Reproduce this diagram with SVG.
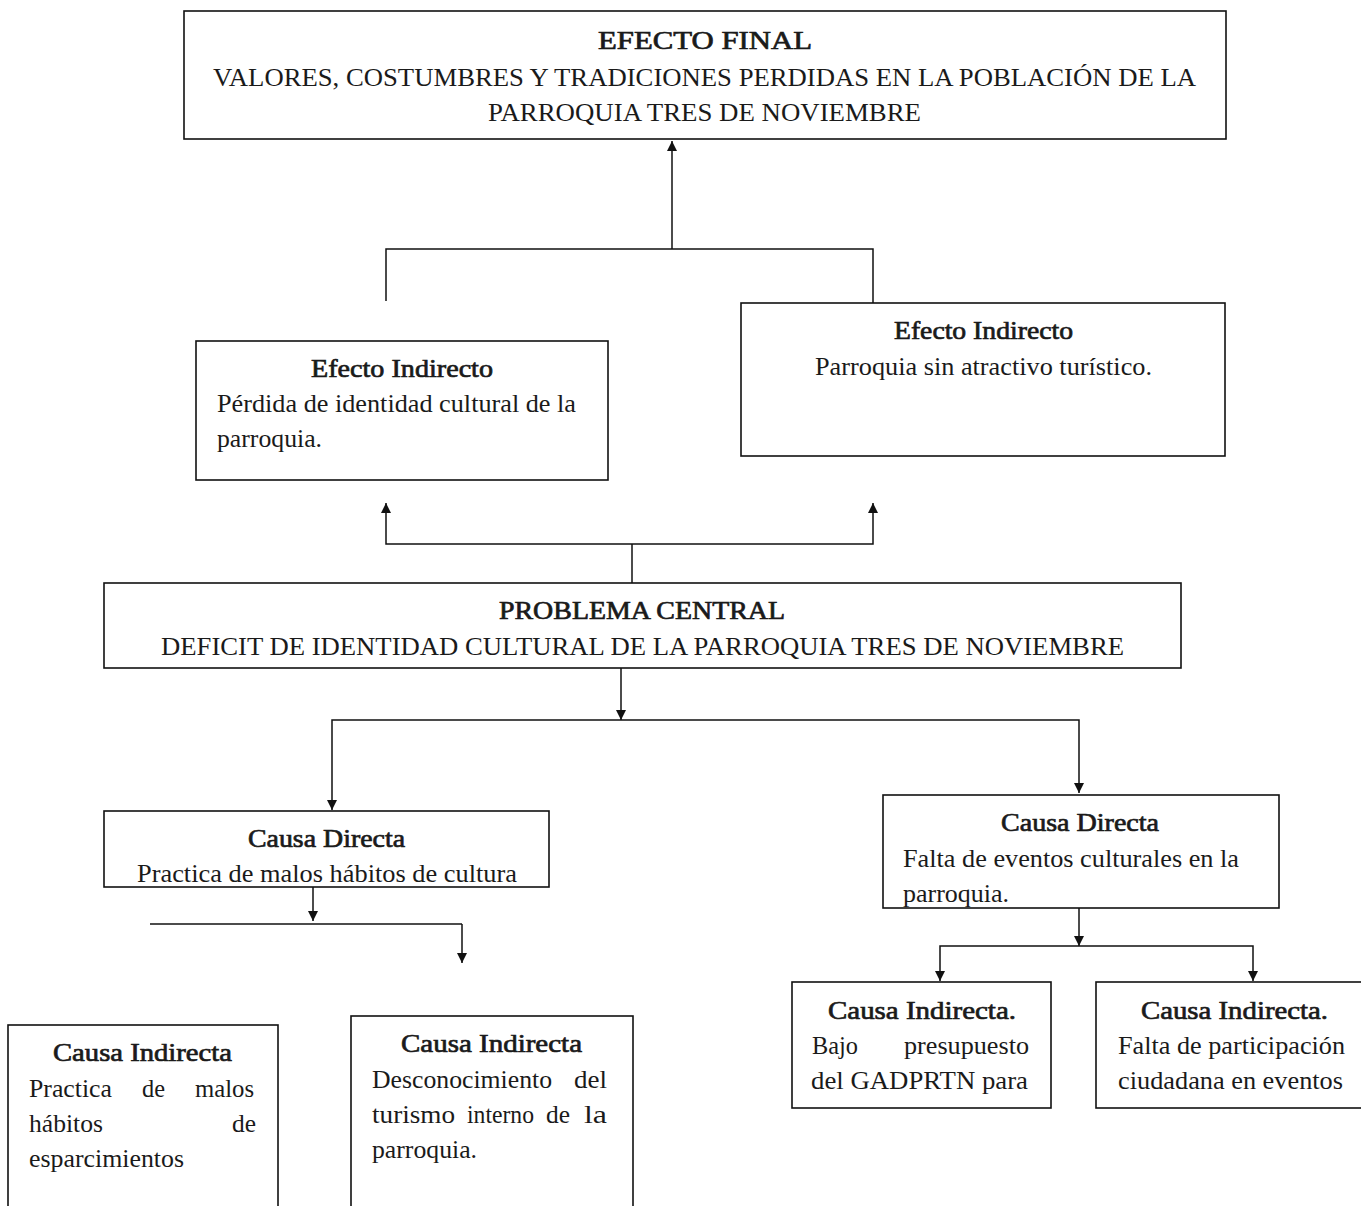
<svg xmlns="http://www.w3.org/2000/svg" width="1361" height="1206" viewBox="0 0 1361 1206">
<defs>
<marker id="ah" markerWidth="10" markerHeight="12" refX="10" refY="5" orient="auto" markerUnits="userSpaceOnUse" viewBox="0 0 10 10">
<path d="M0,0 L10,5 L0,10 Z" fill="#111"/>
</marker>
<style>
.box{fill:none;stroke:#111;stroke-width:1.6}
.ln{fill:none;stroke:#111;stroke-width:1.5}
.arr{fill:none;stroke:#111;stroke-width:1.5;marker-end:url(#ah)}
text{font-family:"Liberation Serif","Times New Roman",serif;font-size:26px;fill:#1a1a1a}
.t{stroke:#1a1a1a;stroke-width:0.7}
.m{text-anchor:middle}
.e{text-anchor:end}
</style>
</defs>
<rect width="1361" height="1206" fill="#fff"/>

<g id="connectors">
<line class="arr" x1="672" y1="249" x2="672" y2="141"/>
<polyline class="ln" points="386,301 386,249 873,249 873,303"/>
<line class="ln" x1="632" y1="583" x2="632" y2="544"/>
<polyline class="arr" points="632,544 386,544 386,503"/>
<polyline class="arr" points="632,544 873,544 873,503"/>
<line class="arr" x1="621" y1="668" x2="621" y2="720"/>
<polyline class="arr" points="621,720 332,720 332,810"/>
<polyline class="arr" points="621,720 1079,720 1079,793"/>
<line class="arr" x1="313" y1="887" x2="313" y2="921"/>
<line class="ln" x1="150" y1="924" x2="462" y2="924"/>
<line class="arr" x1="462" y1="924" x2="462" y2="963"/>
<line class="arr" x1="1079" y1="908" x2="1079" y2="946"/>
<polyline class="arr" points="1079,946 940,946 940,981"/>
<polyline class="arr" points="1079,946 1253,946 1253,981"/>
</g>

<g id="efecto-final">
<rect class="box" x="184" y="11" width="1042" height="128"/>
<text class="t" x="598" y="49" textLength="214" lengthAdjust="spacingAndGlyphs">EFECTO FINAL</text>
<text x="213" y="86" textLength="983" lengthAdjust="spacingAndGlyphs">VALORES, COSTUMBRES Y TRADICIONES PERDIDAS EN LA POBLACIÓN DE LA</text>
<text x="488" y="121" textLength="433" lengthAdjust="spacingAndGlyphs">PARROQUIA TRES DE NOVIEMBRE</text>
</g>

<g id="efecto-indirecto-1">
<rect class="box" x="196" y="341" width="412" height="139"/>
<text class="t" x="311" y="377" textLength="182" lengthAdjust="spacingAndGlyphs">Efecto Indirecto</text>
<text x="217" y="412" textLength="359" lengthAdjust="spacingAndGlyphs">Pérdida de identidad cultural de la</text>
<text x="217" y="447" textLength="105" lengthAdjust="spacingAndGlyphs">parroquia.</text>
</g>

<g id="efecto-indirecto-2">
<rect class="box" x="741" y="303" width="484" height="153"/>
<text class="t" x="894" y="339" textLength="179" lengthAdjust="spacingAndGlyphs">Efecto Indirecto</text>
<text x="815" y="375" textLength="337" lengthAdjust="spacingAndGlyphs">Parroquia sin atractivo turístico.</text>
</g>

<g id="problema-central">
<rect class="box" x="104" y="583" width="1077" height="85"/>
<text class="t" x="499" y="619" textLength="286" lengthAdjust="spacingAndGlyphs">PROBLEMA CENTRAL</text>
<text x="161" y="655" textLength="963" lengthAdjust="spacingAndGlyphs">DEFICIT DE IDENTIDAD CULTURAL DE LA PARROQUIA TRES DE NOVIEMBRE</text>
</g>

<g id="causa-directa-1">
<rect class="box" x="104" y="811" width="445" height="76"/>
<text class="t" x="248" y="847" textLength="157" lengthAdjust="spacingAndGlyphs">Causa Directa</text>
<text x="137" y="882" textLength="380" lengthAdjust="spacingAndGlyphs">Practica de malos hábitos de cultura</text>
</g>

<g id="causa-directa-2">
<rect class="box" x="883" y="795" width="396" height="113"/>
<text class="t" x="1001" y="831" textLength="158" lengthAdjust="spacingAndGlyphs">Causa Directa</text>
<text x="903" y="867" textLength="336" lengthAdjust="spacingAndGlyphs">Falta de eventos culturales en la</text>
<text x="903" y="902" textLength="106" lengthAdjust="spacingAndGlyphs">parroquia.</text>
</g>

<g id="causa-indirecta-1">
<rect class="box" x="8" y="1025" width="270" height="200"/>
<text class="t" x="53" y="1061" textLength="179" lengthAdjust="spacingAndGlyphs">Causa Indirecta</text>
<text x="29" y="1097" textLength="83" lengthAdjust="spacingAndGlyphs">Practica</text>
<text x="142" y="1097" textLength="23" lengthAdjust="spacingAndGlyphs">de</text>
<text x="195" y="1097" textLength="59" lengthAdjust="spacingAndGlyphs">malos</text>
<text x="29" y="1132" textLength="74" lengthAdjust="spacingAndGlyphs">hábitos</text>
<text x="232" y="1132" textLength="24" lengthAdjust="spacingAndGlyphs">de</text>
<text x="29" y="1167" textLength="155" lengthAdjust="spacingAndGlyphs">esparcimientos</text>
</g>

<g id="causa-indirecta-2">
<rect class="box" x="351" y="1016" width="282" height="210"/>
<text class="t" x="401" y="1052" textLength="181" lengthAdjust="spacingAndGlyphs">Causa Indirecta</text>
<text x="372" y="1088" textLength="180" lengthAdjust="spacingAndGlyphs">Desconocimiento</text>
<text x="574" y="1088" textLength="33" lengthAdjust="spacingAndGlyphs">del</text>
<text x="372" y="1123" textLength="83" lengthAdjust="spacingAndGlyphs">turismo</text>
<text x="467" y="1123" textLength="67" lengthAdjust="spacingAndGlyphs">interno</text>
<text x="546" y="1123" textLength="24" lengthAdjust="spacingAndGlyphs">de</text>
<text x="584" y="1123" textLength="23" lengthAdjust="spacingAndGlyphs">la</text>
<text x="372" y="1158" textLength="105" lengthAdjust="spacingAndGlyphs">parroquia.</text>
</g>

<g id="causa-indirecta-3">
<rect class="box" x="792" y="982" width="259" height="126"/>
<text class="t" x="828" y="1019" textLength="188" lengthAdjust="spacingAndGlyphs">Causa Indirecta.</text>
<text x="812" y="1054" textLength="46" lengthAdjust="spacingAndGlyphs">Bajo</text>
<text x="904" y="1054" textLength="125" lengthAdjust="spacingAndGlyphs">presupuesto</text>
<text x="811" y="1089" textLength="217" lengthAdjust="spacingAndGlyphs">del GADPRTN para</text>
</g>

<g id="causa-indirecta-4">
<rect class="box" x="1096" y="982" width="280" height="126"/>
<text class="t" x="1141" y="1019" textLength="187" lengthAdjust="spacingAndGlyphs">Causa Indirecta.</text>
<text x="1118" y="1054" textLength="227" lengthAdjust="spacingAndGlyphs">Falta de participación</text>
<text x="1118" y="1089" textLength="225" lengthAdjust="spacingAndGlyphs">ciudadana en eventos</text>
</g>
</svg>
